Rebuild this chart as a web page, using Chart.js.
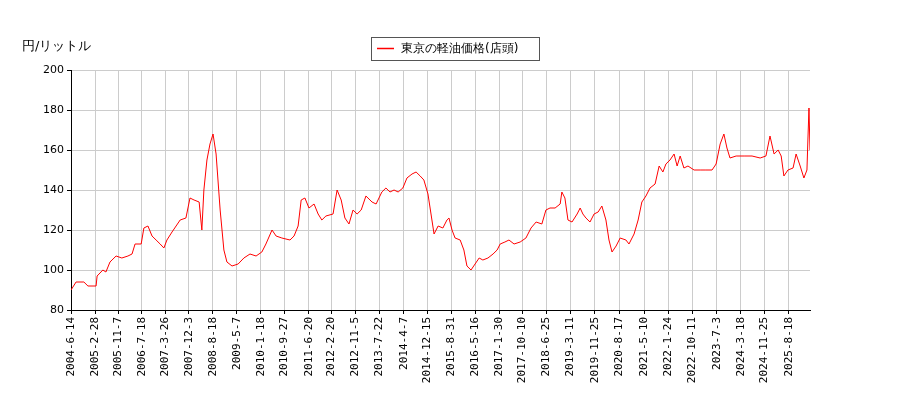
<!DOCTYPE html>
<html><head><meta charset="utf-8">
<script src="https://cdn.jsdelivr.net/npm/chart.js@4/dist/chart.umd.min.js"></script>
<style>html,body{margin:0;background:#fff}#w{position:relative;width:900px;height:400px}</style>
</head><body><div id="w"><canvas id="c" width="900" height="400"></canvas></div>
<script>
const seriesName = '東京の軽油価格(店頭)';
const yUnit = '円/リットル';
const tickLabels = ['2004-6-14','2005-2-28','2005-11-7','2006-7-18','2007-3-26','2007-12-3','2008-8-18','2009-5-7','2010-1-18','2010-9-27','2011-6-20','2012-2-20','2012-11-5','2013-7-22','2014-4-7','2014-12-15','2015-8-31','2016-5-16','2017-1-30','2017-10-10','2018-6-25','2019-3-11','2019-11-25','2020-8-17','2021-5-10','2022-1-24','2022-10-11','2023-7-3','2024-3-18','2024-11-25','2025-8-18'];
const years = [2004.45,2004.60,2004.83,2004.95,2005.19,2005.22,2005.39,2005.48,2005.60,2005.78,2005.95,2006.13,2006.25,2006.34,2006.52,2006.60,2006.72,2006.84,2006.96,2007.08,2007.19,2007.28,2007.43,2007.55,2007.67,2007.84,2007.96,2008.08,2008.23,2008.31,2008.37,2008.46,2008.55,2008.64,2008.73,2008.85,2008.96,2009.05,2009.20,2009.38,2009.55,2009.73,2009.91,2010.08,2010.20,2010.38,2010.50,2010.67,2010.91,2011.03,2011.15,2011.24,2011.35,2011.47,2011.62,2011.74,2011.85,2011.97,2012.18,2012.30,2012.42,2012.53,2012.65,2012.77,2012.89,2013.01,2013.15,2013.33,2013.45,2013.62,2013.74,2013.86,2013.98,2014.10,2014.24,2014.36,2014.51,2014.63,2014.75,2014.86,2014.98,2015.07,2015.16,2015.28,2015.42,2015.54,2015.60,2015.69,2015.78,2015.93,2016.04,2016.13,2016.25,2016.37,2016.49,2016.60,2016.75,2016.90,2017.02,2017.11,2017.25,2017.37,2017.52,2017.70,2017.87,2018.02,2018.17,2018.34,2018.46,2018.58,2018.73,2018.88,2018.93,2019.02,2019.11,2019.23,2019.38,2019.47,2019.55,2019.64,2019.76,2019.88,2020.00,2020.11,2020.23,2020.32,2020.41,2020.53,2020.65,2020.82,2020.91,2021.06,2021.18,2021.29,2021.41,2021.53,2021.68,2021.80,2021.91,2022.00,2022.12,2022.24,2022.33,2022.42,2022.53,2022.65,2022.83,2023.01,2023.18,2023.36,2023.48,2023.60,2023.71,2023.80,2023.89,2024.07,2024.33,2024.54,2024.78,2024.95,2025.07,2025.19,2025.31,2025.40,2025.48,2025.60,2025.75,2025.84,2025.96,2026.07,2026.16,2026.19,2026.22,2026.25];
const prices = [90,94,94,92,92,97,100,99,104,107,106,107,108,113,113,121,122,117,115,113,111,115,119,122,125,126,136,135,134,120,140,155,163,168,158,130,110,104,102,103,106,108,107,109,113,120,117,116,115,117,122,135,136,131,133,128,125,127,128,140,135,126,123,130,128,130,137,134,133,139,141,139,140,139,141,146,148,149,147,145,138,128,118,122,121,125,126,120,116,115,110,102,100,103,106,105,106,108,110,113,114,115,113,114,116,121,124,123,130,131,131,133,139,136,125,124,128,131,128,126,124,128,129,132,125,115,109,112,116,115,113,118,125,134,137,141,143,152,149,153,155,158,152,157,151,152,150,150,150,150,153,163,168,161,156,157,157,157,156,157,167,158,160,157,147,150,151,158,152,146,150,166,181,160];
const yMin=80,yMax=200,yStep=20,xMin=2004.45,xMax=2026.25;
function decYear(s){const [y,m,d]=s.split('-').map(Number);const t=Date.UTC(y,m-1,d),a=Date.UTC(y,0,1),b=Date.UTC(y+1,0,1);return y+(t-a)/(b-a);}
const tickPos = tickLabels.map(decYear);
const pts = years.map((x,i)=>({x,y:prices[i]}));
const F='"DejaVu Sans", sans-serif';
const M='"DejaVu Sans Mono", monospace';
const deco={id:'deco',afterDraw(ch){const c=ch.ctx;c.save();
 c.font='13px '+F;c.fillStyle='#000';c.textBaseline='middle';c.fillText(yUnit,22,47);
 c.strokeStyle='#555';c.lineWidth=1;c.strokeRect(371.5,37.5,168,23);
 c.strokeStyle='red';c.lineWidth=1.5;c.beginPath();c.moveTo(377,48.5);c.lineTo(394,48.5);c.stroke();
 c.font='12px '+F;c.fillText(seriesName,401,49);
 c.restore();}};
new Chart(document.getElementById('c'),{type:'line',
 data:{datasets:[{label:seriesName,data:pts,borderColor:'red',borderWidth:1,pointRadius:0,tension:0,fill:false}]},
 options:{responsive:false,animation:false,layout:{padding:{left:0,right:90,top:70,bottom:0}},
  plugins:{legend:{display:false},tooltip:{enabled:false}},
  scales:{
   x:{type:'linear',min:xMin,max:xMax,afterBuildTicks(a){a.ticks=tickPos.map(v=>({value:v}));},
      afterFit(a){a.height=90;},
      ticks:{autoSkip:false,maxRotation:90,minRotation:90,color:'#000',font:{size:11,family:M},callback:(v,i)=>tickLabels[i]},
      grid:{color:'#ccc',drawTicks:true,tickLength:4,tickColor:'#000'},border:{color:'#000'}},
   y:{min:yMin,max:yMax,afterFit(a){a.width=71;},ticks:{stepSize:yStep,color:'#000',font:{size:11,family:F}},
      grid:{color:'#ccc',tickLength:4,tickColor:'#000'},border:{color:'#000'}}
  }},plugins:[deco]});
</script></body></html>
